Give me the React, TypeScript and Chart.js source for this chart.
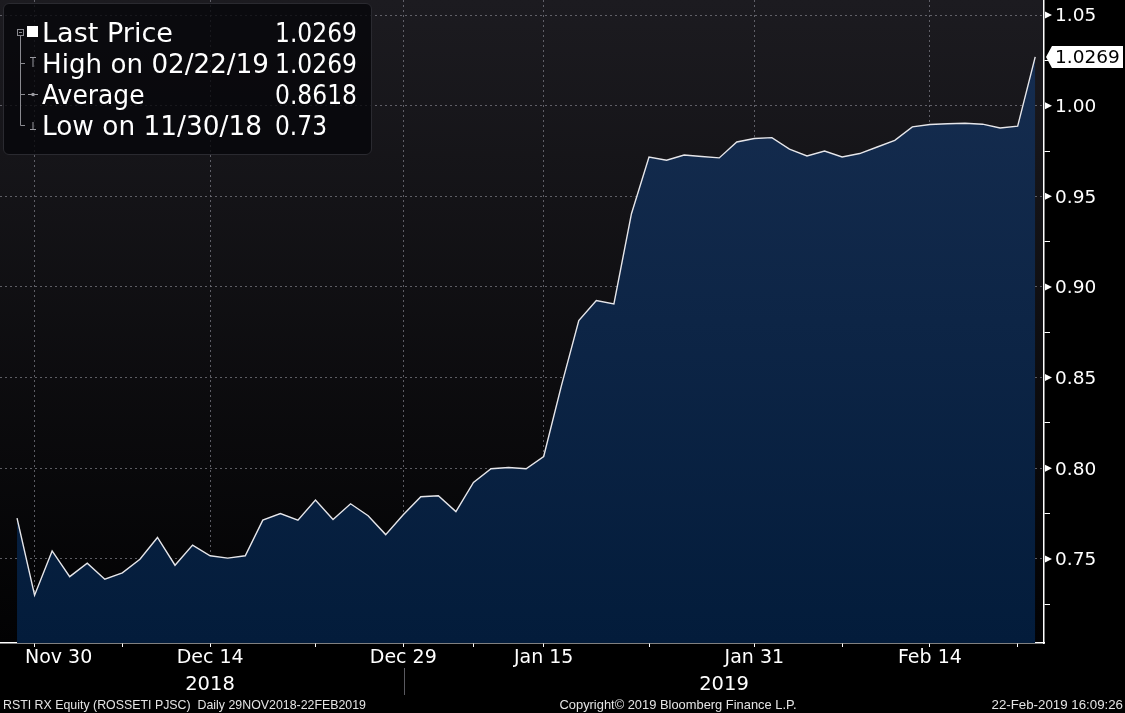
import React, { useEffect, useRef } from "react";
import { Chart, registerables } from "chart.js";

Chart.register(...registerables);

// ---- data ----
const tradeDates = [
  "2018-11-29", "2018-11-30",
  "2018-12-03", "2018-12-04", "2018-12-05", "2018-12-06", "2018-12-07",
  "2018-12-10", "2018-12-11", "2018-12-12", "2018-12-13", "2018-12-14",
  "2018-12-17", "2018-12-18", "2018-12-19", "2018-12-20", "2018-12-21",
  "2018-12-24", "2018-12-25", "2018-12-26", "2018-12-27", "2018-12-28",
  "2018-12-29",
  "2019-01-03", "2019-01-04",
  "2019-01-08", "2019-01-09", "2019-01-10", "2019-01-11",
  "2019-01-14", "2019-01-15", "2019-01-16", "2019-01-17", "2019-01-18",
  "2019-01-21", "2019-01-22", "2019-01-23", "2019-01-24", "2019-01-25",
  "2019-01-28", "2019-01-29", "2019-01-30", "2019-01-31", "2019-02-01",
  "2019-02-04", "2019-02-05", "2019-02-06", "2019-02-07", "2019-02-08",
  "2019-02-11", "2019-02-12", "2019-02-13", "2019-02-14", "2019-02-15",
  "2019-02-18", "2019-02-19", "2019-02-20", "2019-02-21", "2019-02-22",
];

const lastPrices = [
  0.7725, 0.73, 0.7544, 0.7402, 0.7476, 0.7388, 0.7423, 0.7498, 0.7618, 0.7465,
  0.7576, 0.7517, 0.7504, 0.7517, 0.7714, 0.775, 0.7714, 0.7824, 0.7717, 0.7804,
  0.7738, 0.7634, 0.7743, 0.7843, 0.7848, 0.7761, 0.7922, 0.7997, 0.8004, 0.7997,
  0.8065, 0.8452, 0.8815, 0.8925, 0.8907, 0.9404, 0.9717, 0.9699, 0.9728, 0.972,
  0.9712, 0.98, 0.9819, 0.9824, 0.976, 0.9723, 0.975, 0.9717, 0.9736, 0.9772,
  0.9809, 0.9883, 0.9896, 0.99, 0.9903, 0.9898, 0.9877, 0.9887, 1.0269,
];

const xLabelDates = ["2018-11-30", "2018-12-14", "2018-12-29", "2019-01-15", "2019-01-31", "2019-02-14"];
const xLabelTexts = ["Nov 30", "Dec 14", "Dec 29", "Jan 15", "Jan 31", "Feb 14"];
const xMinorDates = ["2018-12-07", "2018-12-24", "2019-01-09", "2019-01-23", "2019-02-07", "2019-02-21"];
const yearLabels = ["2018", "2019"];

const yMajorTicks = [0.75, 0.8, 0.85, 0.9, 0.95, 1.0, 1.05];
const yMinorTicks = [0.725, 0.775, 0.825, 0.875, 0.925, 0.975, 1.025];
const yMin = 0.7036;
const yMax = 1.0583;

const legendNames = ["Last Price", "High on 02/22/19", "Average", "Low on 11/30/18"];
const legendValues = ["1.0269", "1.0269", "0.8618", "0.73"];

const footerLeft = "RSTI RX Equity (ROSSETI PJSC)  Daily 29NOV2018-22FEB2019";
const footerCenter = "Copyright\u00A9 2019 Bloomberg Finance L.P.";
const footerRight = "22-Feb-2019 16:09:26";

// ---- styles / layout ----
const FONT = "'DejaVu Sans', Verdana, sans-serif";
const FOOT_FONT = "'Liberation Sans', Arial, sans-serif";
const GRID = "rgba(120,120,130,0.75)";
const legendBaselines = [42, 73, 104, 135];
const legendNameWidths = [131, 227, 102.5, 220];
const legendValueWidths = [82, 82, 82, 52];
const footerWidths = [363, 237, 131.5];

const xLabelIdx = xLabelDates.map((d) => tradeDates.indexOf(d));
const xMinorIdx = xMinorDates.map((d) => tradeDates.indexOf(d));
const near = (a: number, b: number) => Math.abs(a - b) < 1e-6;

const decorPlugin = {
  id: "decor",
  beforeDraw(chart: any) {
    const { ctx, chartArea: a, width, height } = chart;
    ctx.save();
    ctx.fillStyle = "#000";
    ctx.fillRect(0, 0, width, height);
    const g = ctx.createLinearGradient(0, a.top, 0, a.bottom);
    g.addColorStop(0, "#1c1b20");
    g.addColorStop(1, "#020203");
    ctx.fillStyle = g;
    ctx.fillRect(a.left, a.top, a.right - a.left, a.bottom - a.top);
    ctx.restore();
  },
  afterDraw(chart: any) {
    const { ctx, chartArea: a } = chart;
    const ys = chart.scales.y;
    const xs = chart.scales.x;
    ctx.save();
    // x labels, kept inside the frame
    ctx.fillStyle = "#fff";
    ctx.font = `19px ${FONT}`;
    ctx.textAlign = "center";
    ctx.textBaseline = "middle";
    xLabelIdx.forEach((idx, k) => {
      const t = xLabelTexts[k];
      const w = ctx.measureText(t).width;
      let px = xs.getPixelForValue(idx);
      px = Math.max(px, a.left + 25 + w / 2);
      ctx.fillText(t, px, a.bottom + 15.5);
    });
    // y major tick pointers
    yMajorTicks.forEach((v) => {
      const y = ys.getPixelForValue(v);
      ctx.beginPath();
      ctx.moveTo(a.right + 1, y - 3.5);
      ctx.lineTo(a.right + 8, y);
      ctx.lineTo(a.right + 1, y + 3.5);
      ctx.closePath();
      ctx.fill();
    });
    // last price tag
    const last = lastPrices[lastPrices.length - 1];
    const y = ys.getPixelForValue(last);
    const x0 = a.right + 2;
    ctx.beginPath();
    ctx.moveTo(x0, y);
    ctx.lineTo(x0 + 6, y - 11);
    ctx.lineTo(chart.width - 2, y - 11);
    ctx.lineTo(chart.width - 2, y + 11);
    ctx.lineTo(x0 + 6, y + 11);
    ctx.closePath();
    ctx.fill();
    ctx.fillStyle = "#000";
    ctx.font = `18.5px ${FONT}`;
    ctx.textBaseline = "middle";
    ctx.textAlign = "left";
    ctx.fillText(last.toFixed(4), a.right + 11, y + 1.5);
    ctx.restore();
  },
};

export default function App() {
  const canvasRef = useRef<HTMLCanvasElement | null>(null);

  useEffect(() => {
    const canvas = canvasRef.current;
    if (!canvas) return;
    const chart = new Chart(canvas, {
      type: "line",
      data: {
        datasets: [
          {
            data: lastPrices.map((v, i) => ({ x: i, y: v })),
            borderColor: "#e6e6ea",
            borderWidth: 1.4,
            pointRadius: 0,
            tension: 0,
            fill: "start",
            backgroundColor: (c: any) => {
              const a = c.chart.chartArea;
              if (!a) return "#0c2445";
              const g = c.chart.ctx.createLinearGradient(0, a.top, 0, a.bottom);
              g.addColorStop(0, "#172e51");
              g.addColorStop(1, "#031c3b");
              return g;
            },
          },
        ],
      },
      options: {
        animation: false,
        responsive: false,
        maintainAspectRatio: false,
        layout: { padding: 0 },
        plugins: { legend: { display: false }, tooltip: { enabled: false } },
        scales: {
          x: {
            type: "linear",
            min: -0.97,
            max: 58.5,
            z: 1,
            afterBuildTicks: (s: any) => {
              s.ticks = [...xLabelIdx, ...xMinorIdx].sort((p, q) => p - q).map((v) => ({ value: v }));
            },
            afterFit: (s: any) => {
              s.height = 70;
              s.paddingLeft = 0;
              s.paddingRight = 0;
            },
            grid: {
              color: (c: any) => (c.tick && xLabelIdx.includes(c.tick.value) ? GRID : "rgba(0,0,0,0)"),
              lineWidth: 1,
              tickColor: "#ffffff",
              tickLength: 4,
              tickWidth: 1,
              tickBorderDash: [],
            },
            border: { display: true, color: "#ffffff", width: 1.5, dash: [2, 3] },
            ticks: { display: false, autoSkip: false, maxRotation: 0, minRotation: 0 },
          },
          y: {
            position: "right",
            min: yMin,
            max: yMax,
            z: 1,
            afterBuildTicks: (s: any) => {
              s.ticks = [...yMajorTicks, ...yMinorTicks].sort((p, q) => p - q).map((v) => ({ value: v }));
            },
            afterFit: (s: any) => {
              s.width = 81;
              s.paddingTop = 0;
              s.paddingBottom = 0;
            },
            grid: {
              color: (c: any) =>
                c.tick && yMajorTicks.some((m) => near(m, c.tick.value)) ? GRID : "rgba(0,0,0,0)",
              lineWidth: 1,
              tickColor: (c: any) =>
                c.tick && yMajorTicks.some((m) => near(m, c.tick.value)) ? "rgba(0,0,0,0)" : "#ffffff",
              tickLength: 6,
              tickWidth: 1,
              tickBorderDash: [],
            },
            border: { display: true, color: "#ffffff", width: 1.5, dash: [2, 3] },
            ticks: {
              color: "#ffffff",
              font: { family: FONT, size: 18.5 },
              padding: 5,
              labelOffset: 1.5,
              autoSkip: false,
              callback: (v: any) => {
                const n = Number(v);
                return yMajorTicks.some((m) => near(m, n)) ? n.toFixed(2) : "";
              },
            },
          },
        },
      },
      plugins: [decorPlugin],
    } as any);
    return () => chart.destroy();
  }, []);

  return (
    <div style={{ position: "fixed", left: 0, top: 0, width: 1125, height: 713, background: "#000", overflow: "hidden" }}>
      <canvas ref={canvasRef} width={1125} height={713} style={{ position: "absolute", left: 0, top: 0, width: 1125, height: 713 }} />
      {/* legend box */}
      <div
        style={{
          position: "absolute",
          left: 3,
          top: 3,
          width: 367,
          height: 150,
          background: "rgba(6,6,10,0.8)",
          border: "1px solid #2a2a30",
          borderRadius: 6,
        }}
      />
      <svg width={1125} height={713} style={{ position: "absolute", left: 0, top: 0, pointerEvents: "none" }}>
        {/* legend tree icons */}
        <rect x={17.5} y={29.5} width={6} height={6} fill="none" stroke="#8a8a90" strokeWidth={1} />
        <line x1={19} y1={32.5} x2={22} y2={32.5} stroke="#8a8a90" strokeWidth={1} />
        <line x1={20.5} y1={36} x2={20.5} y2={125.5} stroke="#8a8a90" strokeWidth={1} />
        <line x1={20.5} y1={63.5} x2={25} y2={63.5} stroke="#8a8a90" strokeWidth={1} />
        <line x1={20.5} y1={94.5} x2={25} y2={94.5} stroke="#8a8a90" strokeWidth={1} />
        <line x1={20.5} y1={125.5} x2={25} y2={125.5} stroke="#8a8a90" strokeWidth={1} />
        <rect x={27} y={26} width={11} height={11} fill="#ffffff" />
        <line x1={30} y1={57.5} x2={36} y2={57.5} stroke="#9a9aa0" strokeWidth={1} />
        <line x1={33} y1={57.5} x2={33} y2={67} stroke="#9a9aa0" strokeWidth={1} />
        <line x1={28} y1={94.5} x2={38} y2={94.5} stroke="#9a9aa0" strokeWidth={1} />
        <circle cx={33} cy={94.5} r={1.8} fill="#9a9aa0" />
        <line x1={33} y1={122} x2={33} y2={129.5} stroke="#9a9aa0" strokeWidth={1} />
        <line x1={30} y1={129.5} x2={36} y2={129.5} stroke="#9a9aa0" strokeWidth={1} />
        {/* legend texts */}
        {legendNames.map((n, i) => (
          <text
            key={"n" + i}
            x={42}
            y={legendBaselines[i]}
            fontFamily={FONT}
            fontSize={26}
            fill="#ffffff"
            textLength={legendNameWidths[i]}
            lengthAdjust="spacingAndGlyphs"
          >
            {n}
          </text>
        ))}
        {legendValues.map((v, i) => (
          <text
            key={"v" + i}
            x={275}
            y={legendBaselines[i]}
            fontFamily={FONT}
            fontSize={26}
            fill="#ffffff"
            textLength={legendValueWidths[i]}
            lengthAdjust="spacingAndGlyphs"
          >
            {v}
          </text>
        ))}
        {/* year row */}
        <text x={210} y={690} textAnchor="middle" fontFamily={FONT} fontSize={19.5} fill="#ffffff">
          {yearLabels[0]}
        </text>
        <text x={724} y={690} textAnchor="middle" fontFamily={FONT} fontSize={19.5} fill="#ffffff">
          {yearLabels[1]}
        </text>
        <line x1={404.5} y1={668} x2={404.5} y2={695} stroke="#5a5a60" strokeWidth={1} />
        {/* footer */}
        <text x={3} y={709} fontFamily={FOOT_FONT} fontSize={13} fill="#e4e4e4" textLength={footerWidths[0]} lengthAdjust="spacingAndGlyphs" style={{ whiteSpace: "pre" }}>
          {footerLeft}
        </text>
        <text x={678} y={709} textAnchor="middle" fontFamily={FOOT_FONT} fontSize={13} fill="#e4e4e4" textLength={footerWidths[1]} lengthAdjust="spacingAndGlyphs">
          {footerCenter}
        </text>
        <text x={1123} y={709} textAnchor="end" fontFamily={FOOT_FONT} fontSize={13} fill="#e4e4e4" textLength={footerWidths[2]} lengthAdjust="spacingAndGlyphs">
          {footerRight}
        </text>
      </svg>
    </div>
  );
}
